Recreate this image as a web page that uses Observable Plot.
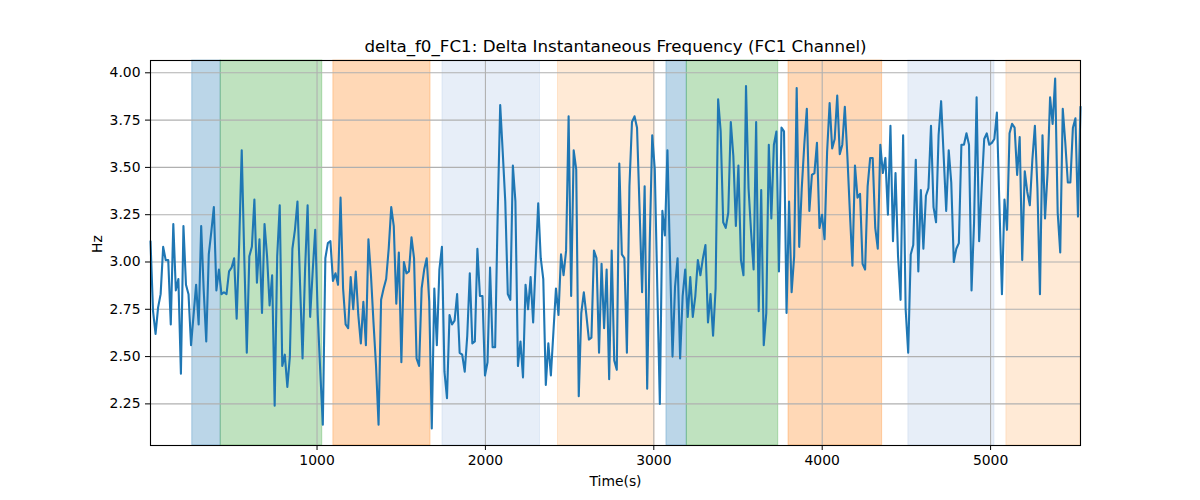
<!DOCTYPE html>
<html>
<head>
<meta charset="utf-8">
<script src="https://cdn.jsdelivr.net/npm/d3@7"></script>
<script src="https://cdn.jsdelivr.net/npm/@observablehq/plot@0.6"></script>
<style>
  html, body { margin: 0; padding: 0; background: white; }
</style>
</head>
<body>
<div id="chart"></div>
<script>
const titleText = "delta_f0_FC1: Delta Instantaneous Frequency (FC1 Channel)";
const xLabel = "Time(s)";
const yLabel = "Hz";
const xTicks = [1000, 2000, 3000, 4000, 5000];
const yTicks = [2.25, 2.50, 2.75, 3.00, 3.25, 3.50, 3.75, 4.00];
const timeStart = 11;
const timeEnd = 5534;

const hz = [
  3.11, 2.74, 2.62, 2.76, 2.83, 3.08, 3.01, 3.01, 2.67, 3.20, 2.85, 2.91, 2.41, 3.19, 2.88, 2.83, 2.56, 2.72, 2.88, 2.67, 3.19, 2.85, 2.58, 3.04, 3.16, 3.29, 2.85, 2.96, 2.83, 2.84, 2.83,
  2.95, 2.97, 3.02, 2.70, 3.10, 3.59, 3.03, 2.52, 3.03, 3.08, 3.33, 2.89, 3.12, 2.73, 3.20, 3.03, 2.77, 2.93, 2.24, 3.03, 3.30, 2.45, 2.51, 2.34, 2.50, 3.07, 3.17, 3.32,
  2.89, 2.49, 2.96, 3.30, 2.71, 2.95, 3.17, 2.72, 2.42, 2.14, 3.02, 3.10, 3.11, 2.90, 2.94, 2.88, 3.34, 2.86, 2.67, 2.65, 2.92, 2.75, 2.95, 2.72, 2.57, 2.79, 2.56, 3.12, 2.93, 2.68, 2.45, 2.14, 2.80, 2.86, 2.91, 3.07, 3.29, 3.19, 2.78, 3.05, 2.47, 3.00, 2.94, 2.95, 3.13, 3.02, 2.49, 2.45, 2.86, 2.96, 3.02, 2.79, 2.12, 2.86, 2.56, 2.96, 3.08, 2.42, 2.28,
  2.72, 2.67, 2.69, 2.83, 2.52, 2.51, 2.42, 2.61, 2.94, 2.57, 2.58, 3.07, 2.82, 2.82, 2.40, 2.47, 2.97, 2.55, 2.55, 3.25, 3.83, 3.58, 3.32, 2.83, 2.80, 3.51, 3.32, 2.45, 2.58, 2.39, 2.88, 2.75, 2.92, 2.68, 3.00, 3.31, 3.02, 2.91, 2.35, 2.57, 2.40, 2.63, 2.86, 2.72, 3.04, 2.93, 3.06, 3.77, 2.82, 3.59, 3.49, 2.29, 2.73, 2.84, 2.72, 2.59, 2.60,
  3.06, 3.02, 2.52, 2.99, 2.65, 2.96, 2.38, 3.06, 2.48, 2.43, 3.52, 3.04, 3.02, 2.52, 3.40, 3.74, 3.77, 3.71, 3.28, 2.84, 3.40, 2.33, 3.10, 3.67, 3.49, 2.86, 2.25, 3.27, 3.14, 3.59, 3.02, 2.50, 2.87, 3.02, 2.49, 2.82, 2.96, 2.71, 2.92, 2.71, 2.82, 3.01, 2.93, 3.02, 3.09, 2.68, 2.83, 2.61, 2.86, 3.86, 3.69, 3.21, 3.18, 3.26, 3.74, 3.56, 3.19, 3.51, 3.01, 2.93, 3.93,
  3.39, 3.16, 2.96, 3.74, 2.74, 3.38, 2.56, 2.73, 3.62, 3.23, 3.62, 3.69, 2.95, 3.71, 3.69, 2.73, 3.32, 2.84, 3.03, 3.92, 3.08, 3.39, 3.62, 3.81, 3.27, 3.46, 3.47, 3.63, 3.18, 3.25, 3.12, 3.58, 3.84, 3.60, 3.65, 3.88, 3.57, 3.62, 3.82, 3.56, 3.26, 2.98, 3.51, 3.34, 3.36, 2.99, 2.96, 3.40, 3.55, 3.55, 3.18, 3.07, 3.62, 3.47, 3.55, 3.25, 3.72, 3.11,
  3.47, 3.03, 2.80, 3.67, 2.75, 2.52, 3.04, 3.09, 3.54, 2.95, 3.38, 3.07, 3.35, 3.39, 3.72, 3.29, 3.21, 3.67, 3.85, 3.56, 3.27, 3.59, 3.42, 3.00, 3.07, 3.10, 3.62, 3.62, 3.68, 3.62, 2.85, 3.21, 3.87, 3.11, 3.39, 3.65, 3.68, 3.62, 3.63, 3.65, 3.79, 3.30, 2.83, 3.33, 3.17, 3.68, 3.73, 3.71, 3.46, 3.66, 3.01, 3.48, 3.37, 3.30, 3.54, 3.72, 3.39, 2.83, 3.67, 3.23, 3.47, 3.87, 3.73, 3.97, 3.26, 3.05, 3.81, 3.63, 3.42, 3.42, 3.71, 3.76, 3.24, 3.82
];

const spanStart = [259, 428, 1097, 1745, 2431, 3075, 3196, 3800, 4512, 5094];
const spanEnd   = [428, 1031, 1674, 2324, 3004, 3196, 3739, 4356, 5023, 5534];
const spanColor = ["#1f77b4", "#2ca02c", "#ff7f0e", "#aec7e8", "#ffbb78", "#1f77b4", "#2ca02c", "#ff7f0e", "#aec7e8", "#ffbb78"];

const n = hz.length;
const series = hz.map((v, i) => ({t: timeStart + i * (timeEnd - timeStart) / (n - 1), v}));
const spans = spanStart.map((s, i) => ({x1: s, x2: spanEnd[i], color: spanColor[i]}));

const chart = Plot.plot({
  width: 1200,
  height: 500,
  marginTop: 60,
  marginBottom: 55,
  marginLeft: 150,
  marginRight: 120,
  style: {fontFamily: "DejaVu Sans", fontSize: "13.9px", color: "black", background: "white"},
  x: {domain: [timeStart, timeEnd], ticks: xTicks, tickFormat: "d", label: null},
  y: {domain: [2.03, 4.065], ticks: yTicks, tickFormat: ".2f", label: null},
  marks: [
    Plot.rect(spans, {x1: "x1", x2: "x2", fill: "color", fillOpacity: 0.3, stroke: "color", strokeOpacity: 0.3, strokeWidth: 1}),
    Plot.gridX(xTicks, {stroke: "#b0b0b0", strokeOpacity: 1, strokeWidth: 1.1}),
    Plot.gridY(yTicks, {stroke: "#b0b0b0", strokeOpacity: 1, strokeWidth: 1.1}),
    Plot.line(series, {x: "t", y: "v", stroke: "#1f77b4", strokeWidth: 2.1}),
    Plot.frame({stroke: "black", strokeWidth: 1.1}),
    Plot.axisX(xTicks, {tickSize: 5, tickPadding: 5, tickFormat: "d", fontSize: 13.9, label: null}),
    Plot.axisY(yTicks, {tickSize: 5, tickPadding: 5, tickFormat: ".2f", fontSize: 13.9, label: null}),
    Plot.text([titleText], {frameAnchor: "top", dy: -14, lineAnchor: "middle", fontSize: 16.7}),
    Plot.text([xLabel], {frameAnchor: "bottom", dy: 36, lineAnchor: "middle", fontSize: 13.9}),
    Plot.text([yLabel], {frameAnchor: "left", dx: -53, rotate: -90, lineAnchor: "middle", fontSize: 13.9})
  ]
});
document.getElementById("chart").appendChild(chart);
</script>
</body>
</html>
